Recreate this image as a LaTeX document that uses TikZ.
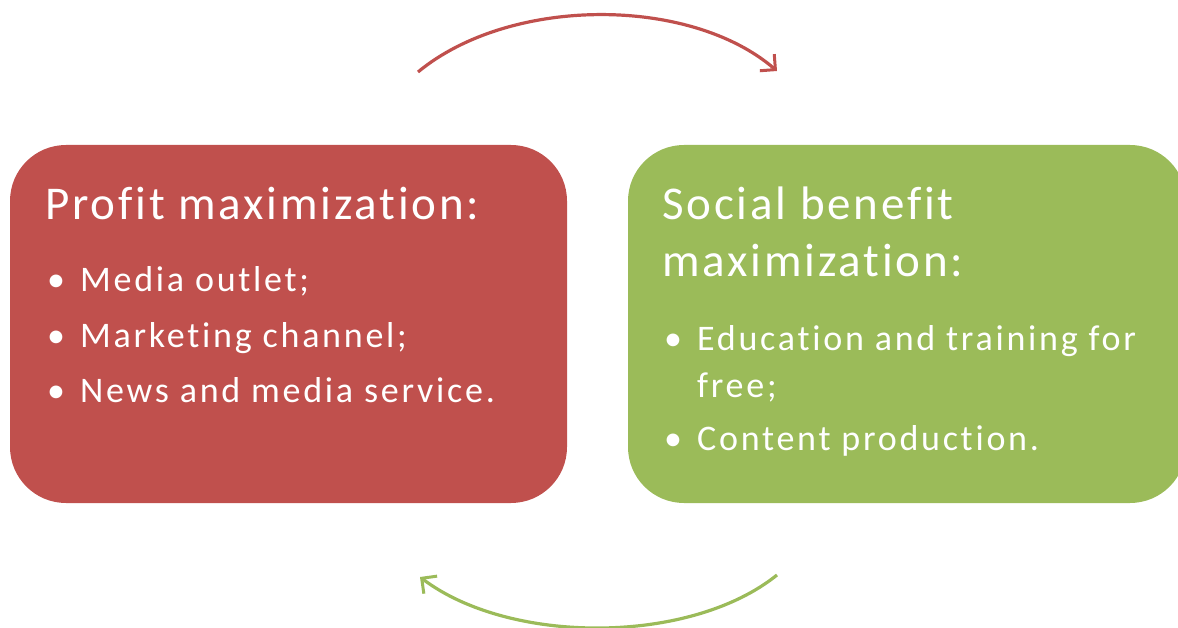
\documentclass[tikz,border=0pt]{standalone}
\usepackage{fontspec}
\setmainfont{Carlito}[Ligatures=NoCommon]
\newfontfamily\titlefont{Carlito}[LetterSpace=6, Ligatures=NoCommon]
\newfontfamily\itemfont{Carlito}[LetterSpace=7.6, Ligatures=NoCommon]
\usetikzlibrary{arrows.meta}
\definecolor{boxred}{HTML}{C0504D}
\definecolor{boxgreen}{HTML}{9BBB59}
\newcommand{\bulitem}[1]{\makebox[33pt][l]{\textbullet}#1}
\begin{document}
\begin{tikzpicture}[x=1pt,y=-1pt,
  panel/.style={rounded corners=56pt, inner sep=0pt, outer sep=0pt},
  titletxt/.style={anchor=base west, inner sep=0pt, text=white, font=\titlefont\fontsize{47}{57}\selectfont, align=left},
  itemtxt/.style={anchor=base west, inner sep=0pt, text=white, font=\itemfont\fontsize{36}{47}\selectfont, align=left},
  cyclearrow/.style={line width=3.2pt, -{Straight Barb[length=11pt,width=22pt,line width=3pt]}}
]
\useasboundingbox (0,0) rectangle (1178,628);
% boxes
\fill[boxred, panel] (10,145) rectangle (567,503);
\node[inner sep=0pt] (red) at (288.5,324) {};
\fill[boxgreen, panel] (628,145) rectangle (1186,503);
\node[inner sep=0pt] (green) at (907,324) {};
% red texts
\node[titletxt] (rtitle) at (45,220) {Profit maximization:};
\node[itemtxt] (r1) at (47,292) {\bulitem{Media outlet;}};
\node[itemtxt] (r2) at (47,347) {\bulitem{Marketing channel;}};
\node[itemtxt] (r3) at (47,402) {\bulitem{News and media service.}};
% green texts
\node[titletxt] (gtitle) at (662,277) {Social benefit\\maximization:};
\node[itemtxt] (g1) at (664,397) {\bulitem{Education and training for}\\\hspace*{33pt}free;};
\node[itemtxt] (g2) at (664,450) {\bulitem{Content production.}};
% cycle arrows
\coordinate (ta) at (418,72);
\coordinate (tb) at (777,71);
\coordinate (ba) at (777,575);
\coordinate (bb) at (420,577);
\draw[boxred, cyclearrow] (ta) .. controls (510,-4) and (690,-4) .. (tb);
\draw[boxgreen, cyclearrow] (ba) .. controls (690,645) and (510,645) .. (bb);
\end{tikzpicture}
\end{document}
